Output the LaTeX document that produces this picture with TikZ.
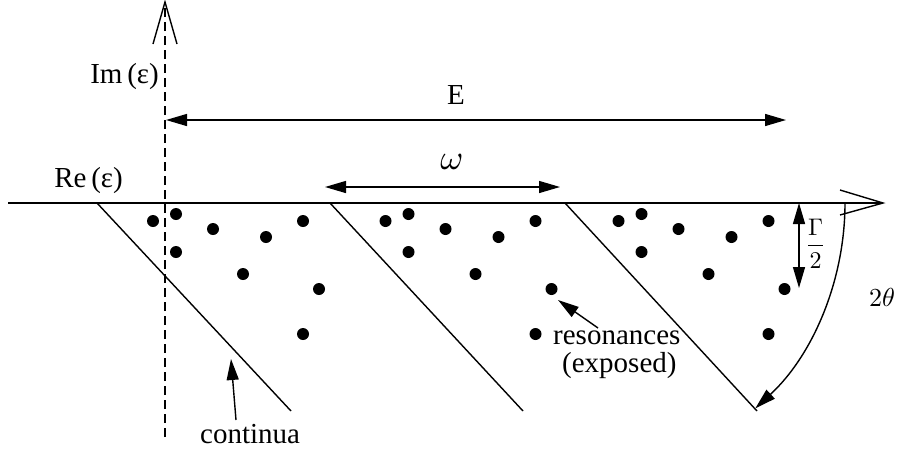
\documentclass[tikz,border=0pt]{standalone}
\usepackage{graphicx}
\usepackage{fontspec}
\setmainfont{Liberation Serif}
\usetikzlibrary{arrows.meta}
\begin{document}
\begin{tikzpicture}[x=1pt,y=-1pt,
  ln/.style={line width=1.4pt},
  tip/.style={-{Triangle[length=21pt,width=12pt]}},
  dtip/.style={{Triangle[length=21pt,width=12pt]}-{Triangle[length=21pt,width=12pt]}},
  dot/.style={circle,fill,inner sep=0pt,minimum size=12pt},
  txt/.style={font=\fontsize{29}{30}\selectfont,inner sep=0pt},
  mth/.style={font=\fontsize{10}{12}\selectfont,inner sep=0pt}]
\useasboundingbox (0,0) rectangle (902,453);
% axes
\coordinate (xl) at (8,203);
\coordinate (xr) at (883,203);
\coordinate (yt) at (165,2);
\coordinate (yb) at (165,437);
\draw[ln] (xl) -- (xr);
\draw[ln] (840,190) -- (xr) -- (840,215);
\draw[ln,dash pattern=on 9pt off 5pt] (yb) -- (yt);
\draw[ln] (153,44) -- (yt) -- (177,44);
\node[txt,anchor=base east] (im) at (159,83) {Im\,(ε)};
\node[txt,anchor=base east] (re) at (123,187) {Re\,(ε)};
% continua lines
\foreach \i/\sx/\ex in {1/97/291, 2/330/523, 3/565/757} {
  \coordinate (s\i) at (\sx,203);
  \coordinate (e\i) at (\ex,411);
  \draw[ln] (s\i) -- (e\i);
}
% dots
\foreach \g/\dx in {1/0, 2/232.5, 3/465.5} {
  \foreach \n/\px/\py in {a/153/221, b/176/214, c/213/229, d/266/237, e/303/221, f/176/252, g/243/274, h/319/289, k/303/334} {
    \node[dot] (d\g\n) at (\px+\dx,\py) {};
  }
}
% E arrow
\coordinate (ea) at (166,120);
\coordinate (eb) at (786,120);
\draw[ln,dtip] (ea) -- (eb);
\node[txt,anchor=base] (elab) at (456,104) {E};
% omega arrow
\coordinate (wa) at (325,187);
\coordinate (wb) at (560,187);
\draw[ln,dtip] (wa) -- (wb);
\node[mth,anchor=south] (wlab) at (452,170) {\scalebox{3.5}{$\omega$}};
% Gamma/2
\coordinate (ga) at (799,203);
\coordinate (gb) at (799,288);
\draw[ln,dtip] (ga) -- (gb);
\node[mth,anchor=west] (glab) at (805,243.5) {\scalebox{2.4}{$\displaystyle\frac{\Gamma}{2}$}};
% 2 theta arc
\draw[ln,tip] (s3) ++(280,0) arc[start angle=0,end angle=47.2,radius=280];
\node[mth,anchor=center] (th) at (882,297) {\scalebox{2.6}{$2\theta$}};
% resonances
\node[txt,anchor=base west] (res) at (553,344) {resonances};
\node[txt,anchor=base west] (exp) at (562,372) {(exposed)};
\coordinate (ra) at (598,328);
\coordinate (rb) at (558,300);
\draw[ln,tip] (ra) -- (rb);
% continua
\node[txt,anchor=base west] (cont) at (200,443) {continua};
\coordinate (ca) at (236,420);
\coordinate (cb) at (231,359);
\draw[ln,tip] (ca) -- (cb);
\end{tikzpicture}
\end{document}
